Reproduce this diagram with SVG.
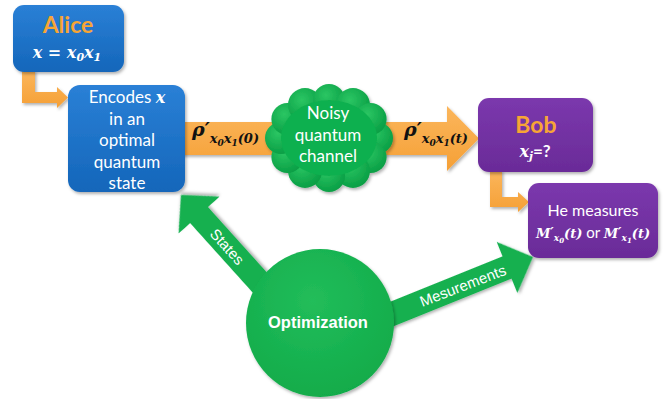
<svg xmlns="http://www.w3.org/2000/svg" width="670" height="399" viewBox="0 0 670 399">
  <defs>
    <filter id="sh" x="-20%" y="-20%" width="140%" height="140%">
      <feDropShadow dx="1.5" dy="2" stdDeviation="1.8" flood-color="#000" flood-opacity="0.3"/>
    </filter>
    <linearGradient id="blue" x1="0" y1="0" x2="0" y2="1">
      <stop offset="0" stop-color="#2a80d6"/>
      <stop offset="1" stop-color="#1466ba"/>
    </linearGradient>
    <linearGradient id="purple" x1="0" y1="0" x2="0" y2="1">
      <stop offset="0" stop-color="#7b38ad"/>
      <stop offset="1" stop-color="#6a2b98"/>
    </linearGradient>
    <linearGradient id="orange" x1="0" y1="0" x2="0" y2="1">
      <stop offset="0" stop-color="#fbb65c"/>
      <stop offset="1" stop-color="#f5a036"/>
    </linearGradient>
    <radialGradient id="bump" cx="0.4" cy="0.35" r="0.7">
      <stop offset="0" stop-color="#2bc663"/>
      <stop offset="1" stop-color="#079c43"/>
    </radialGradient>
    <radialGradient id="ball" cx="0.45" cy="0.35" r="0.75">
      <stop offset="0" stop-color="#22bd5a"/>
      <stop offset="1" stop-color="#0fa948"/>
    </radialGradient>
  </defs>
  <style>
    .lbl { font-family: Lato, "Open Sans", "Liberation Sans", sans-serif; fill: #fff; text-anchor: middle; }
    .big { font-family: Lato, "Open Sans", "Liberation Sans", sans-serif; font-weight: bold; fill: #f7a535; text-anchor: middle; font-size: 23px; }
    .m { font-family: "DejaVu Serif", "Liberation Serif", serif; font-weight: bold; font-style: italic; }
    .ar { font-family: "Liberation Sans", Arial, sans-serif; fill: #fff; text-anchor: middle; }
    .orng { fill: url(#orange); }
    .grn { fill: #14b04f; }
  </style>

  <g id="connectors">
    <!-- Alice -> Encodes elbow -->
    <polygon class="orng" filter="url(#sh)" points="22,70 35,70 35,92 57,92 57,87 68,97.5 57,108 57,103 22,103"/>
    <!-- main channel arrow -->
    <polygon class="orng" filter="url(#sh)" points="180,122 447,122 447,106 479,138.5 447,171 447,155 180,155"/>
    <text class="m" x="192" y="136" fill="#111"><tspan font-size="19">ρ</tspan><tspan font-size="19">′</tspan><tspan font-size="13" dy="7">x</tspan><tspan font-size="9" dy="3">0</tspan><tspan font-size="13" dy="-3">x</tspan><tspan font-size="9" dy="3">1</tspan><tspan font-size="13" dy="-3">(0)</tspan></text>
    <text class="m" x="404" y="136" fill="#111"><tspan font-size="19">ρ</tspan><tspan font-size="19">′</tspan><tspan font-size="13" dy="7">x</tspan><tspan font-size="9" dy="3">0</tspan><tspan font-size="13" dy="-3">x</tspan><tspan font-size="9" dy="3">1</tspan><tspan font-size="13" dy="-3">(t)</tspan></text>
    <!-- Bob -> measure elbow -->
    <polygon class="orng" filter="url(#sh)" points="490,170 502,170 502,197 518,197 518,192 529,202 518,212 518,207 490,207"/>
    <!-- States arrow -->
    <polygon class="grn" filter="url(#sh)" transform="translate(181,195) rotate(228)" points="0,0 -27,-27.5 -27,-12 -150,-12 -150,12 -27,12 -27,27.5"/>
    <text class="ar" font-size="15" transform="translate(227,247) rotate(48)" dy="5">States</text>
    <!-- Mesurements arrow -->
    <polygon class="grn" filter="url(#sh)" transform="translate(533,257) rotate(-22)" points="0,0 -28,-27.5 -28,-12 -190,-12 -190,12 -28,12 -28,27.5"/>
    <text class="ar" font-size="15" transform="translate(463,286) rotate(-21)" dy="5">Mesurements</text>
  </g>

  <g id="alice">
    <rect x="13" y="5" width="111" height="67" rx="11" fill="url(#blue)" filter="url(#sh)"/>
    <text class="big" x="68" y="33">Alice</text>
    <text class="m" x="67" y="58" fill="#fff" text-anchor="middle"><tspan font-size="16">x = x</tspan><tspan font-size="11" dy="3">0</tspan><tspan font-size="16" dy="-3">x</tspan><tspan font-size="11" dy="3">1</tspan></text>
  </g>

  <g id="encodes">
    <rect x="68" y="85" width="117" height="107" rx="12" fill="url(#blue)" filter="url(#sh)"/>
    <text class="lbl" font-size="17" x="127" y="103">Encodes <tspan class="m" font-size="16">x</tspan></text>
    <text class="lbl" font-size="17" x="127" y="124.5">in an</text>
    <text class="lbl" font-size="17" x="127" y="146">optimal</text>
    <text class="lbl" font-size="17" x="127" y="167.5">quantum</text>
    <text class="lbl" font-size="17" x="127" y="189">state</text>
  </g>

  <g id="channel">
    <g filter="url(#sh)">
      <circle cx="377" cy="138" r="16" fill="url(#bump)"/>
      <circle cx="370.6" cy="157" r="16" fill="url(#bump)"/>
      <circle cx="353" cy="170.9" r="17" fill="url(#bump)"/>
      <circle cx="329" cy="176" r="16" fill="url(#bump)"/>
      <circle cx="305" cy="170.9" r="17" fill="url(#bump)"/>
      <circle cx="287.4" cy="157" r="16" fill="url(#bump)"/>
      <circle cx="281" cy="138" r="16" fill="url(#bump)"/>
      <circle cx="287.4" cy="119" r="16" fill="url(#bump)"/>
      <circle cx="305" cy="105.1" r="17" fill="url(#bump)"/>
      <circle cx="329" cy="100" r="16" fill="url(#bump)"/>
      <circle cx="353" cy="105.1" r="17" fill="url(#bump)"/>
      <circle cx="370.6" cy="119" r="16" fill="url(#bump)"/>
      <ellipse cx="329" cy="138" rx="48" ry="38" fill="#10b04f"/>
    </g>
    <text class="lbl" font-size="17" x="328" y="119">Noisy</text>
    <text class="lbl" font-size="17" x="328" y="141">quantum</text>
    <text class="lbl" font-size="17" x="328" y="162">channel</text>
  </g>

  <g id="bob">
    <rect x="478" y="98" width="115" height="74" rx="11" fill="url(#purple)" filter="url(#sh)"/>
    <text class="big" x="536" y="133">Bob</text>
    <text x="535" y="157" fill="#fff" text-anchor="middle"><tspan class="m" font-size="16">x</tspan><tspan class="m" font-size="11" dy="3">j</tspan><tspan font-family="Lato, 'Open Sans', sans-serif" font-weight="bold" font-size="17" dy="-3">=?</tspan></text>
  </g>

  <g id="measure">
    <rect x="528" y="183" width="130" height="75" rx="11" fill="url(#purple)" filter="url(#sh)"/>
    <text class="lbl" font-size="16" x="593" y="216">He measures</text>
    <text x="593" y="238" fill="#fff" text-anchor="middle"><tspan class="m" font-size="13">M</tspan><tspan class="m" font-size="13" dy="-1">′</tspan><tspan class="m" font-size="9" dy="4">x</tspan><tspan class="m" font-size="7" dy="2">0</tspan><tspan class="m" font-size="13" dy="-5">(t)</tspan><tspan font-family="Lato, 'Open Sans', sans-serif" font-size="15"> or </tspan><tspan class="m" font-size="13">M</tspan><tspan class="m" font-size="13" dy="-1">′</tspan><tspan class="m" font-size="9" dy="4">x</tspan><tspan class="m" font-size="7" dy="2">1</tspan><tspan class="m" font-size="13" dy="-5">(t)</tspan></text>
  </g>

  <g id="optimization">
    <circle cx="320" cy="323" r="74" fill="url(#ball)" filter="url(#sh)"/>
    <text x="318" y="328" font-family="'Liberation Sans', Arial, sans-serif" font-weight="bold" font-size="16.5" fill="#fff" text-anchor="middle">Optimization</text>
  </g>
</svg>
